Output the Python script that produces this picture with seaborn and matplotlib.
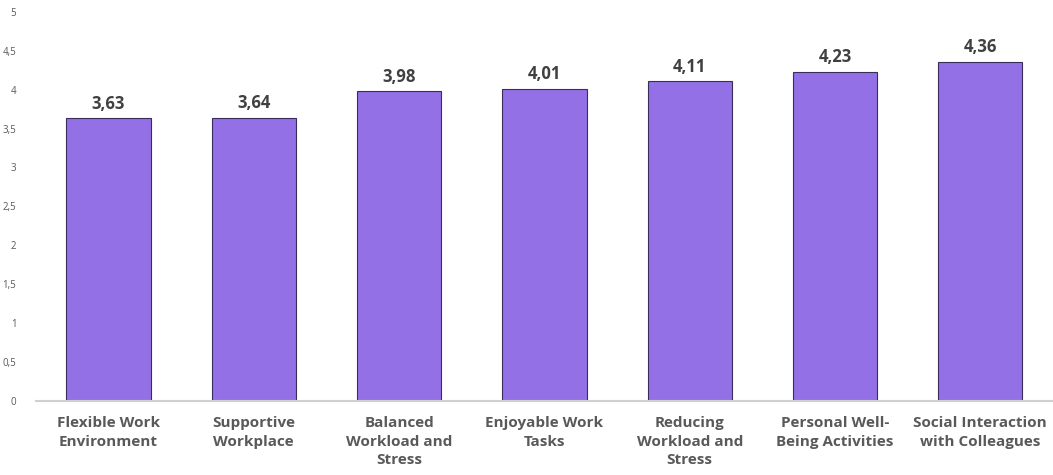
import matplotlib
matplotlib.use("Agg")
import matplotlib.pyplot as plt
import seaborn as sns
import pandas as pd

categories = [
    "Flexible Work\nEnvironment",
    "Supportive\nWorkplace",
    "Balanced\nWorkload and\nStress",
    "Enjoyable Work\nTasks",
    "Reducing\nWorkload and\nStress",
    "Personal Well-\nBeing Activities",
    "Social Interaction\nwith Colleagues",
]
scores = [3.63, 3.64, 3.98, 4.01, 4.11, 4.23, 4.36]
y_ticks = [0, 0.5, 1, 1.5, 2, 2.5, 3, 3.5, 4, 4.5, 5]

sns.set_theme(style="white")
plt.rcParams["font.family"] = ["Open Sans", "DejaVu Sans"]

df = pd.DataFrame({"category": categories, "score": scores})

fig = plt.figure(figsize=(10.53, 4.75), dpi=100)
ax = fig.add_axes([0.034, 0.156, 0.966, 0.819])

sns.barplot(data=df, x="category", y="score", color="#9370e6", saturation=1,
            width=0.58, edgecolor="#3a2d5c", linewidth=0.8, ax=ax)

ax.set_ylim(0, 5)
ax.set_yticks(y_ticks)
ax.set_yticklabels([f"{t:g}".replace(".", ",") for t in y_ticks],
                   fontsize=7, color="#595959")
ax.tick_params(axis="y", length=0, pad=14)
ax.tick_params(axis="x", length=0, pad=11)
for lbl in ax.get_xticklabels():
    lbl.set_fontsize(11)
    lbl.set_fontweight("bold")
    lbl.set_color("#595959")
    lbl.set_linespacing(1.4)

ax.set_xlabel("")
ax.set_ylabel("")
for side in ["top", "right", "left"]:
    ax.spines[side].set_visible(False)
ax.spines["bottom"].set_color("#d0d0d0")
ax.spines["bottom"].set_linewidth(1.5)

for patch, val in zip(ax.patches, scores):
    ax.annotate(f"{val:.2f}".replace(".", ","),
                (patch.get_x() + patch.get_width() / 2, patch.get_height()),
                xytext=(0, 4), textcoords="offset points",
                ha="center", va="bottom", fontsize=12, fontweight="bold",
                color="#404040")

fig.savefig("out.png", dpi=100)
